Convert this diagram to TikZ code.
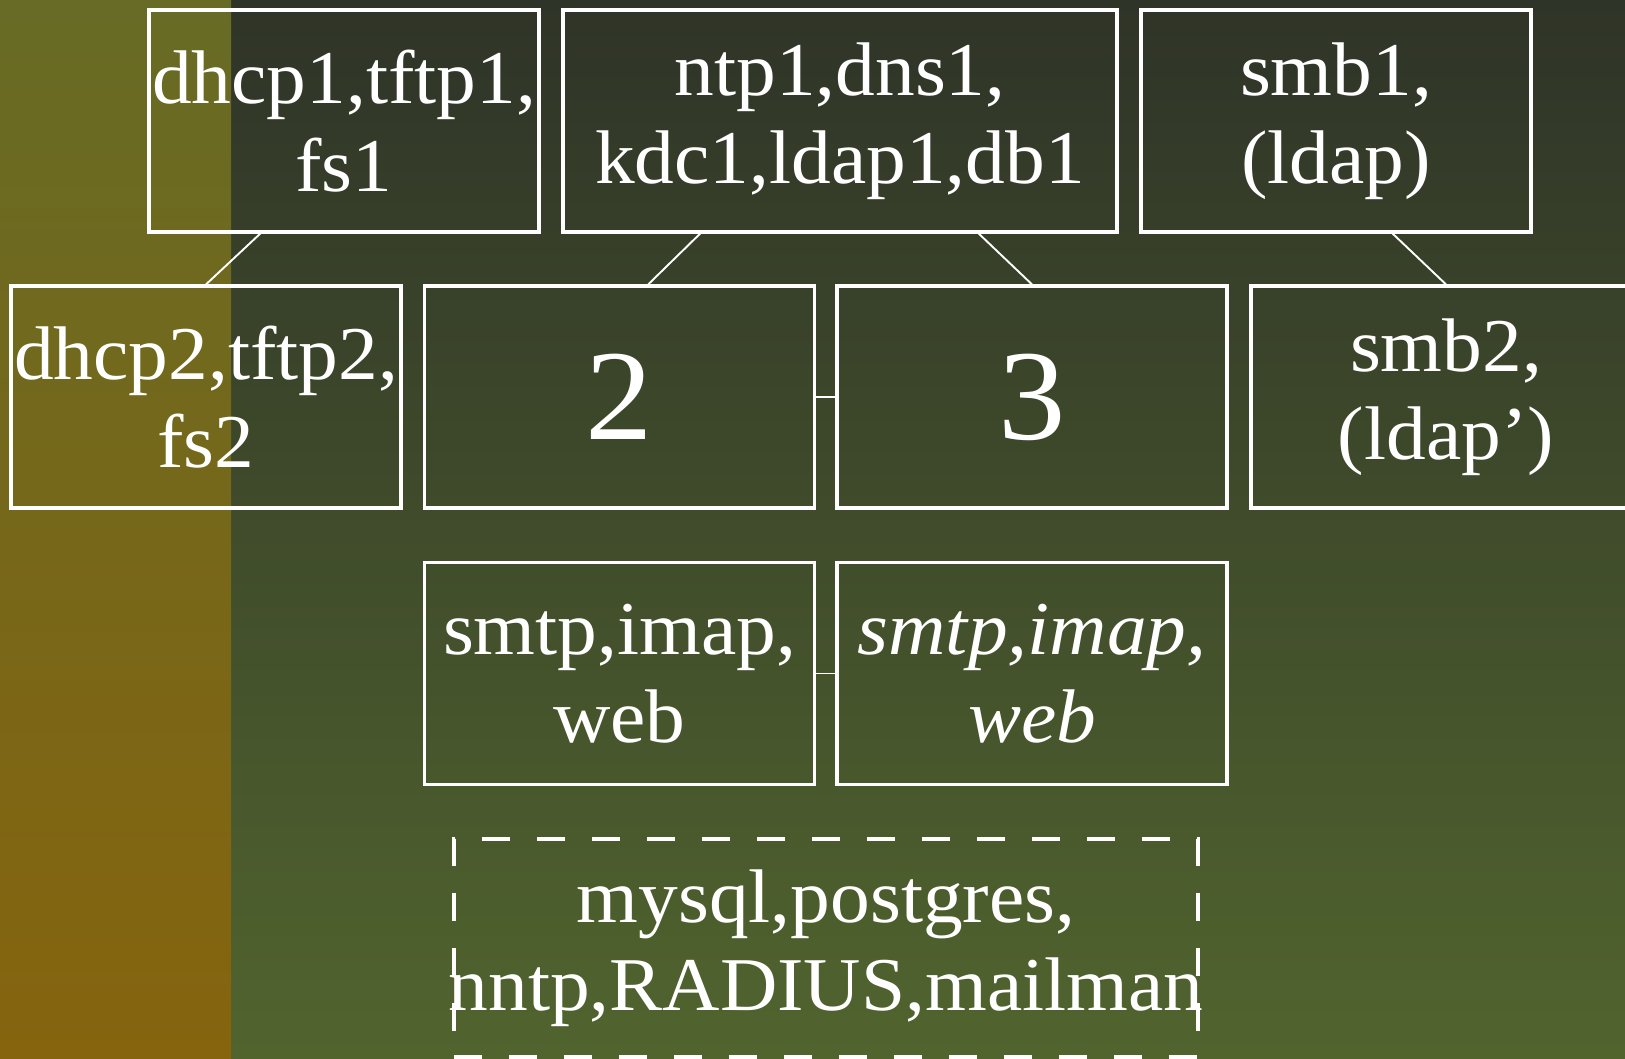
\documentclass[tikz,border=0pt]{standalone}
\usepackage{fontspec}
\setmainfont{Liberation Serif}[FakeStretch=1.045]
\usetikzlibrary{calc}

\definecolor{stripTop}{RGB}{103,107,37}
\definecolor{stripBot}{RGB}{134,100,14}
\definecolor{mainTop}{RGB}{47,52,40}
\definecolor{mainBot}{RGB}{81,100,46}

\tikzset{
  srvbox/.style={draw=white, line width=3.2pt, rectangle, inner sep=0pt,
    minimum width=390pt, minimum height=222pt, text=white, align=center,
    font=\fontsize{76}{88}\selectfont},
  widebox/.style={srvbox, minimum width=554pt},
  bigbox/.style={srvbox, font=\fontsize{129}{140}\selectfont},
  poolbox/.style={srvbox, minimum width=744pt, minimum height=218pt,
    dash pattern=on 28pt off 27pt},
  link/.style={draw=white, line width=1.9pt},
}

\begin{document}
\begin{tikzpicture}[x=1pt, y=-1pt]
  \useasboundingbox (0,0) rectangle (1625,1058);

  % background: main gradient and the left colour strip
  \shade[top color=mainTop, bottom color=mainBot] (0,0) rectangle (1625,1058);
  \shade[top color=stripTop, bottom color=stripBot] (0,0) rectangle (231,1058);

  % first tier
  \node[srvbox]  (b1) at (344,121)  {dhcp1,tftp1,\\fs1};
  \node[widebox] (b2) at (840,121)  {ntp1,dns1,\\kdc1,ldap1,db1};
  \node[srvbox]  (b3) at (1336,121) {smb1,\\(ldap)};

  % second tier
  \node[srvbox] (c1) at (206,397)    {dhcp2,tftp2,\\fs2};
  \node[bigbox] (c2) at (619.5,397)  {2};
  \node[bigbox] (c3) at (1032,397)   {3};
  \node[srvbox] (c4) at (1446,397)   {smb2,\\(ldap’)};

  % mail tier
  \node[srvbox] (d1) at (619.5,673.5) {smtp,imap,\\web};
  \node[srvbox] (d2) at (1032,673.5)  {\itshape smtp,imap,\\\itshape web};

  % shared services pool
  \node[poolbox] (e) at (826,948)
    {\makebox[0pt]{mysql,postgres,}\\\makebox[0pt]{nntp,RADIUS,mailman}};

  % connectors
  \draw[link] ($(b1.south west)!0.287!(b1.south east)$) -- (c1.north);
  \draw[link] ($(b2.south west)!0.249!(b2.south east)$) -- ($(c2.north west)!0.573!(c2.north east)$);
  \draw[link] ($(b2.south west)!0.749!(b2.south east)$) -- (c3.north);
  \draw[link] ($(b3.south west)!0.644!(b3.south east)$) -- (c4.north);
  \draw[link] (c2.east) -- (c3.west);
  \draw[link] (d1.east) -- (d2.west);
\end{tikzpicture}
\end{document}
